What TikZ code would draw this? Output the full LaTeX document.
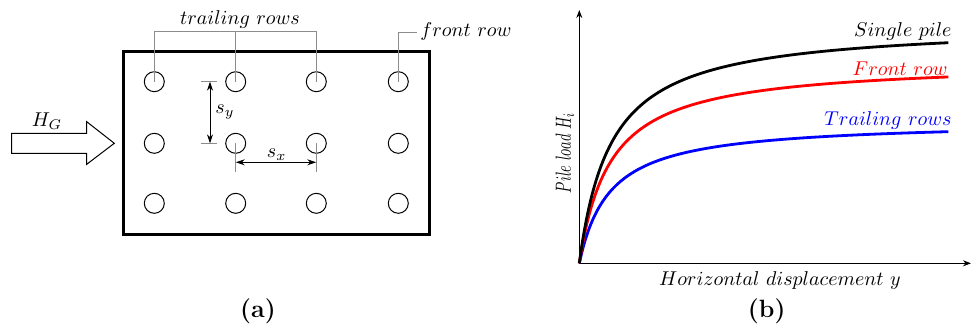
\documentclass[tikz,border=0pt]{standalone}
\usetikzlibrary{arrows.meta}
\begin{document}
\begin{tikzpicture}[x=0.5pt,y=-0.5pt,
  pile/.style={circle,draw,line width=0.5pt,minimum size=10pt,inner sep=0pt},
  leader/.style={draw=black!45,line width=0.4pt},
  dimline/.style={line width=0.45pt,{Stealth[length=4.5pt,width=3pt]}-{Stealth[length=4.5pt,width=3pt]}},
  extline/.style={draw=black!45,line width=0.4pt},
  lbl/.style={font=\fontsize{9.9}{11}\selectfont,inner sep=0pt},
  curve/.style={line width=1.4pt,smooth},
  axis/.style={line width=0.5pt,-{Stealth[length=4pt,width=3pt]}},
  captext/.style={font=\fontsize{12.5}{14}\selectfont\bfseries,inner sep=0pt}]
\useasboundingbox (0,0) rectangle (971,327);
% ---- (a) ----
\draw[line width=1.5pt] (123.5,51.7) rectangle (429,234.5);
\foreach \c/\x in {1/154.3,2/235.7,3/316.3,4/398.3}{
  \foreach \r/\y in {1/81.7,2/143.3,3/203.3}{
    \node[pile] (c\r\c) at (\x,\y) {};
  }
}
% leaders
\coordinate (t1) at (154.3,31.7);
\coordinate (t2) at (235.7,31.7);
\coordinate (t3) at (316.3,31.7);
\draw[leader] (c11.center) -- (t1) -- (t3) -- (c13.center);
\draw[leader] (c12.center) -- (t2);
\node[lbl] (trl) at (240,19.3) {$trailing\ rows$};
\coordinate (f1) at (398.3,32);
\coordinate (f2) at (417,32);
\draw[leader] (c14.center) -- (f1) -- (f2);
\node[lbl,anchor=west] (frl) at (420,31.7) {$front\ row$};
% s_y dimension
\coordinate (ey1a) at (200.7,81.7); \coordinate (ey1b) at (217,81.7);
\coordinate (ey2a) at (200.7,143.3); \coordinate (ey2b) at (217,143.3);
\draw[extline] (ey1a) -- (ey1b);
\draw[extline] (ey2a) -- (ey2b);
\coordinate (sy1) at (210,81.7); \coordinate (sy2) at (210,143.3);
\draw[dimline] (sy1) -- (sy2);
\node[lbl,anchor=west] (syl) at (215,111.7) {$s_y$};
% s_x dimension
\coordinate (ex1) at (235.7,172); \coordinate (ex2) at (316.3,172);
\draw[extline] (c22.center) -- (ex1);
\draw[extline] (c23.center) -- (ex2);
\coordinate (sx1) at (235.7,162.3); \coordinate (sx2) at (316.3,162.3);
\draw[dimline] (sx1) -- (sx2);
\node[lbl] (sxl) at (276.7,155) {$s_x$};
% H_G block arrow
\draw[line width=0.5pt] (11.7,133.3) -- (86.7,133.3) -- (86.7,121.7) -- (114.3,143.3)
  -- (86.7,164.3) -- (86.7,153.3) -- (11.7,153.3) -- cycle;
\node[lbl] (hg) at (47,121) {$H_G$};
\node[captext] (capa) at (258,311.7) {(a)};
% ---- (b) ----
\coordinate (O) at (579.3,263.3);
\coordinate (ytop) at (579.3,10);
\coordinate (xend) at (971,263.3);
\draw[axis] (O) -- (ytop);
\draw[axis] (O) -- (xend);
\draw[curve,blue] plot[domain=0:369,samples=120] ({579.3+\x},{263.3-142.5*(\x/(30.5+\x))});
\draw[curve,red] plot[domain=0:369,samples=120] ({579.3+\x},{263.3-202*(\x/(31+\x))});
\draw[curve,black] plot[domain=0:369,samples=120] ({579.3+\x},{263.3-239.6*(\x/(31.8+\x))});
\node[lbl,anchor=east] (sp) at (952,31.7) {$Single\ pile$};
\node[lbl,anchor=east,text=red] (fr) at (948,69) {$Front\ row$};
\node[lbl,anchor=east,text=blue] (tr) at (952,120.7) {$Trailing\ rows$};
\node[lbl,rotate=90] (yl) at (565,153) {\fontsize{11}{12}\selectfont\scalebox{0.66}[1]{$Pile\ load\ H_i$}};
\node[lbl] (xl) at (780,280) {$Horizontal\ displacement\ y$};
\node[captext] (capb) at (766.7,311.7) {(b)};
\end{tikzpicture}
\end{document}
